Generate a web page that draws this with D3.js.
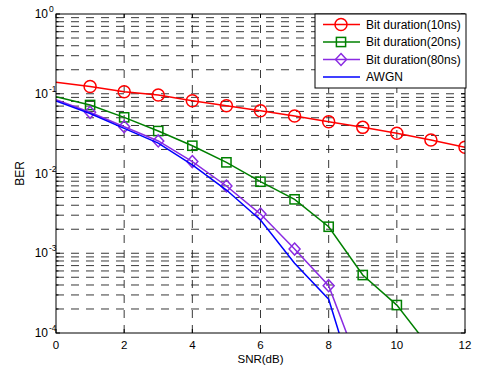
<!DOCTYPE html>
<html><head><meta charset="utf-8">
<script src="https://cdn.jsdelivr.net/npm/d3@7"></script>
<style>body{margin:0;background:#fff} text{font-family:"Liberation Sans",Arial,sans-serif}</style>
</head><body>
<svg id="c" width="477" height="371"></svg>
<script>
const snr10 = [0,1,2,3,4,5,6,7,8,9,10,11,12];
const ber10 = [0.139,0.123,0.106,0.0964,0.0818,0.0708,0.0613,0.0526,0.0446,0.0379,0.0319,0.0263,0.0213];
const snr20 = [0,1,2,3,4,5,6,7,8,9,10,11];
const ber20 = [0.0918,0.0723,0.0506,0.0341,0.0223,0.0138,0.00789,0.00474,0.00215,0.000533,0.000224,0.000063];
const snr80 = [0,1,2,3,4,5,6,7,8,9];
const ber80 = [0.084,0.0585,0.0386,0.0256,0.0141,0.00697,0.0031,0.00113,0.000392,0.000029];
const snrA = [0,1,2,3,4,5,6,7,8,9];
const berA = [0.081,0.0565,0.0368,0.024,0.0128,0.0062,0.00261,0.000748,0.000265,0.000011];
const xTicks = [0,2,4,6,8,10,12];
const yExps = [-4,-3,-2,-1,0];
const legendLabels = ["Bit duration(10ns)","Bit duration(20ns)","Bit duration(80ns)","AWGN"];

const series = [
  {x:snr10, y:ber10, color:"#ff0000", marker:"circle", label:legendLabels[0]},
  {x:snr20, y:ber20, color:"#008000", marker:"square", label:legendLabels[1]},
  {x:snr80, y:ber80, color:"#8a2be2", marker:"diamond", label:legendLabels[2]},
  {x:snrA, y:berA, color:"#0000ff", marker:null, label:legendLabels[3]}
];

const L=56, R=465, T=14, B=333;
const svg = d3.select("#c");
const x = d3.scaleLinear().domain([0,12]).range([L,R]);
const y = d3.scaleLog().domain([1e-4,1]).range([B,T]);

svg.append("defs").append("clipPath").attr("id","clip")
  .append("rect").attr("x",L).attr("y",T).attr("width",R-L).attr("height",B-T);

// grid
const g = svg.append("g").attr("stroke","#222").attr("stroke-width",0.9).attr("stroke-dasharray","8,7").attr("fill","none");
xTicks.filter(t=>t>0&&t<12).forEach(t=>{
  g.append("line").attr("x1",x(t)).attr("x2",x(t)).attr("y1",B).attr("y2",T);
});
const yGrid = [];
yExps.slice(0,-1).forEach(e=>{ for(let k=1;k<10;k++){ const v=k*Math.pow(10,e); if(v>1e-4) yGrid.push(v);} });
yGrid.forEach(v=>{
  g.append("line").attr("x1",L).attr("x2",R).attr("y1",y(v)).attr("y2",y(v));
});

// ticks
const tk = svg.append("g").attr("stroke","#000").attr("stroke-width",1);
xTicks.forEach(t=>{
  tk.append("line").attr("x1",x(t)).attr("x2",x(t)).attr("y1",B).attr("y2",B-4);
  tk.append("line").attr("x1",x(t)).attr("x2",x(t)).attr("y1",T).attr("y2",T+4);
});
yExps.forEach(e=>{ for(let k=1;k<10;k++){ const v=k*Math.pow(10,e); if(v>1) break; const len = k===1?4:2.5;
  tk.append("line").attr("x1",L).attr("x2",L+len).attr("y1",y(v)).attr("y2",y(v));
  tk.append("line").attr("x1",R).attr("x2",R-len).attr("y1",y(v)).attr("y2",y(v));
}});

// lines
const line = d3.line().x(d=>x(d[0])).y(d=>y(d[1]));
const plot = svg.append("g").attr("clip-path","url(#clip)");
function drawMarker(sel, type, cx, cy, color){
  if(type==="circle") sel.append("circle").attr("cx",cx).attr("cy",cy).attr("r",6).attr("fill","none").attr("stroke",color).attr("stroke-width",1.5);
  else if(type==="square") sel.append("rect").attr("x",cx-4.6).attr("y",cy-4.6).attr("width",9.2).attr("height",9.2).attr("fill","none").attr("stroke",color).attr("stroke-width",1.5);
  else if(type==="diamond") sel.append("path").attr("d",`M${cx},${cy-6}L${cx+5.5},${cy}L${cx},${cy+6}L${cx-5.5},${cy}Z`).attr("fill","none").attr("stroke",color).attr("stroke-width",1.5);
}
series.forEach(s=>{
  const pts = s.x.map((v,i)=>[v,s.y[i]]);
  plot.append("path").attr("d",line(pts)).attr("fill","none").attr("stroke",s.color).attr("stroke-width",1.5);
  if(s.marker){
    pts.filter(p=>p[0]>=1 && p[1]>=1e-4).forEach(p=>drawMarker(plot,s.marker,x(p[0]),y(p[1]),s.color));
  }
});

// box
svg.append("rect").attr("x",L).attr("y",T).attr("width",R-L).attr("height",B-T).attr("fill","none").attr("stroke","#000").attr("stroke-width",1);

// tick labels
xTicks.forEach(t=>{
  svg.append("text").attr("x",x(t)).attr("y",349).attr("text-anchor","middle").attr("font-size",11.5).text(t);
});
yExps.forEach(e=>{
  svg.append("text").attr("x",48).attr("y",y(Math.pow(10,e))+4).attr("text-anchor","end").attr("font-size",12).text("10");
  svg.append("text").attr("x",49).attr("y",y(Math.pow(10,e))-2).attr("font-size",8.5).text(e);
});
svg.append("text").attr("x",(L+R)/2).attr("y",363).attr("text-anchor","middle").attr("font-size",11.5).text("SNR(dB)");
svg.append("text").attr("transform",`translate(24,${(T+B)/2}) rotate(-90)`).attr("text-anchor","middle").attr("font-size",12).text("BER");

// legend
const lg = svg.append("g");
lg.append("rect").attr("x",315).attr("y",14).attr("width",151).attr("height",74).attr("fill","#fff").attr("stroke","#000").attr("stroke-width",1);
series.forEach((s,i)=>{
  const ly = 24.5 + i*17.5;
  lg.append("line").attr("x1",323).attr("x2",360).attr("y1",ly).attr("y2",ly).attr("stroke",s.color).attr("stroke-width",1.5);
  if(s.marker) drawMarker(lg,s.marker,341,ly,s.color);
  lg.append("text").attr("x",366).attr("y",ly+4).attr("font-size",12).text(s.label);
});
</script>
</body></html>
